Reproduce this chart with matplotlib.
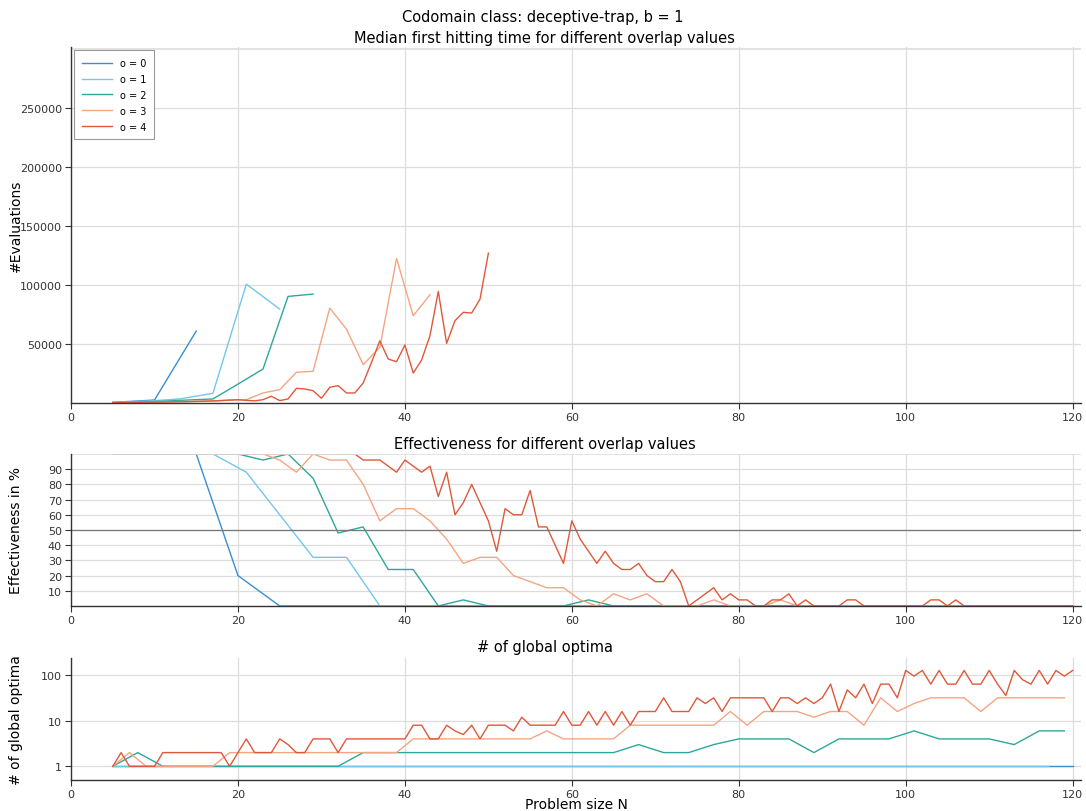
import matplotlib
matplotlib.use("Agg")
import matplotlib.pyplot as plt
from matplotlib.ticker import FixedLocator, FixedFormatter

# problem sizes per overlap value
n0 = list(range(5, 121, 5))
n1 = list(range(5, 118, 4))
n2 = list(range(5, 120, 3))
n3 = list(range(5, 120, 2))
n4 = list(range(5, 121, 1))

# median first hitting time (only while effectiveness >= 50%)
med0 = [500, 2500, 61000]
med1 = [500, 1500, 3400, 8200, 100800, 79700]
med2 = [400, 800, 1500, 2500, 3400, 16000, 28800, 90400, 92400]
med3 = [300, 500, 700, 900, 1200, 1500, 1800, 2500, 2800, 8500,
        11300, 26000, 26900, 80500, 62700, 32500, 47200, 122600, 74000, 91800]
med4 = [200, 300, 400, 500, 600, 700, 800, 900, 1000, 1100,
        1300, 1500, 1700, 2000, 2400, 2800, 2200, 1800, 2800, 5700,
        2000, 3400, 12400, 11900, 10400, 4000, 13300, 14700, 8500, 8500,
        16900, 34500, 52800, 37300, 35000, 49200, 25400, 36400, 57000, 94600,
        50600, 69800, 76900, 76300, 88100, 127100]

# effectiveness in %
eff0 = [100, 100, 100, 20] + [0] * 20
eff1 = [100, 100, 100, 100, 88, 60, 32, 32] + [0] * 21
eff2 = [100, 100, 100, 100, 100, 100, 96, 100, 84, 48,
        52, 24, 24, 0, 4, 0, 0, 0, 0, 4] + [0] * 19
eff3 = [100] * 10 + [96, 88, 100, 96, 96, 80, 56, 64, 64, 56,
                     44, 28, 32, 32, 20, 16, 12, 12, 4, 0,
                     8, 4, 8, 0, 0, 0, 4, 0, 0, 0, 4] + [0] * 17
eff4 = [100] * 30 + [96, 96, 96, 92, 88, 96, 92, 88, 92, 72,
                     88, 60, 68, 80, 68, 56, 36, 64, 60, 60,
                     76, 52, 52, 40, 28, 56, 44, 36, 28, 36,
                     28, 24, 24, 28, 20, 16, 16, 24, 16, 0,
                     4, 8, 12, 4, 8, 4, 4, 0, 0, 4,
                     4, 8, 0, 4, 0, 0, 0, 0, 4, 4] + [0] * 8 + [4, 4, 0, 4] + [0] * 14

# number of global optima
opt0 = [1] * 24
opt1 = [1] * 29
opt2 = [1, 2, 1] + [1] * 7 + [2] + [2] * 10 + [3, 2, 2, 3, 4, 4, 4, 2, 4, 4,
                                               4, 6, 4, 4, 4, 3, 6, 6]
opt3 = [1, 2, 1] + [1] * 4 + [2] * 11 + [4] * 8 + [6] + [4] * 4 + [8] * 6 + \
       [16, 8, 16, 16, 16, 12, 16, 16, 8, 32, 16, 24, 32, 32, 32, 16, 32, 32, 32, 32, 32]
opt4 = [1, 2, 1, 1, 1, 1] + [2] * 8 + \
       [1, 2, 4, 2, 2, 2, 4, 3, 2, 2, 4, 4, 4, 2] + [4] * 8 + \
       [8, 8, 4, 4, 8, 6, 5, 8, 4, 8,
        8, 8, 6, 12, 8, 8, 8, 8, 16, 8,
        8, 16, 8, 16, 8, 16, 8, 16, 16, 16,
        32, 16, 16, 16, 32, 24, 32, 16, 32, 32,
        32, 32, 32, 16, 32, 32, 24, 32, 24, 32,
        64, 16, 48, 32, 64, 24, 64, 64, 32, 128,
        96, 128, 64, 128, 64, 64, 128, 64, 64, 128,
        64, 36, 128, 80, 64, 128, 64, 128, 96, 128]

labels = ["o = 0", "o = 1", "o = 2", "o = 3", "o = 4"]
colors = ["#3a8fce", "#72c7ec", "#2ca89a", "#f4a582", "#e0583a"]

ns = [n0, n1, n2, n3, n4]
meds = [med0, med1, med2, med3, med4]
effs = [eff0, eff1, eff2, eff3, eff4]
opts = [opt0, opt1, opt2, opt3, opt4]

grid_c = "#dddddd"
spine_c = "#333333"
title_x = 0.469  # titles sit at the figure centre, not the axes centre


def style(ax):
    for s in ["top", "right"]:
        ax.spines[s].set_visible(False)
    for s in ["left", "bottom"]:
        ax.spines[s].set_color(spine_c)
        ax.spines[s].set_linewidth(1.0)
    ax.tick_params(direction="out", length=4, width=0.8, labelsize=8, colors=spine_c, pad=2.5)
    ax.grid(True, color=grid_c, linewidth=0.9)
    ax.set_axisbelow(True)
    ax.set_xlim(0, 121)
    ax.set_xticks(range(0, 121, 20))
    ax.yaxis.set_label_coords(-0.048, 0.5)


fig = plt.figure(figsize=(10.86, 8.12), dpi=100)
ax1 = fig.add_axes([0.0654, 0.5025, 0.930, 0.4384])
ax2 = fig.add_axes([0.0654, 0.2525, 0.930, 0.1872])
ax3 = fig.add_axes([0.0654, 0.0382, 0.930, 0.1502])

fig.suptitle("Codomain class: deceptive-trap, b = 1", y=0.988, fontsize=10.5)

# top: median hitting time
for n, m, c, lab in zip(ns, meds, colors, labels):
    ax1.plot(n[:len(m)], m, color=c, lw=1.0, label=lab)
style(ax1)
ax1.set_ylim(0, 302000)
ax1.set_yticks(range(50000, 250001, 50000))
ax1.axhline(300000, color=grid_c, lw=1.2)
ax1.set_ylabel("#Evaluations", fontsize=10)
ax1.set_title("Median first hitting time for different overlap values", fontsize=10.5, pad=3.5, x=title_x)
leg = ax1.legend(loc="upper left", fontsize=7, handlelength=3.1, fancybox=False,
                 framealpha=1, edgecolor="#999999", borderpad=0.8, labelspacing=0.6,
                 borderaxespad=0.35)
leg.get_frame().set_linewidth(0.8)

# middle: effectiveness
for n, e, c, lab in zip(ns, effs, colors, labels):
    ax2.plot(n, e, color=c, lw=1.0, label=lab)
style(ax2)
ax2.set_ylim(0, 100)
ax2.set_yticks(range(10, 100, 10))
ax2.axhline(100, color=grid_c, lw=1.2)
ax2.axhline(50, color="#777777", lw=0.9)
ax2.set_ylabel("Effectiveness in %", fontsize=10)
ax2.set_title("Effectiveness for different overlap values", fontsize=10.5, pad=4.5, x=title_x)

# bottom: global optima
for n, o, c, lab in zip(ns, opts, colors, labels):
    ax3.plot(n, o, color=c, lw=1.0, label=lab)
style(ax3)
ax3.set_yscale("log")
ax3.set_ylim(0.5, 240)
ax3.yaxis.set_major_locator(FixedLocator([1, 10, 100]))
ax3.yaxis.set_major_formatter(FixedFormatter(["1", "10", "100"]))
ax3.yaxis.set_minor_locator(FixedLocator([]))
ax3.set_ylabel("# of global optima", fontsize=10)
ax3.set_xlabel("Problem size N", fontsize=10, labelpad=-1.5)
ax3.set_title("# of global optima", fontsize=10.5, pad=5, x=title_x)

fig.savefig("out.png", dpi=100)
